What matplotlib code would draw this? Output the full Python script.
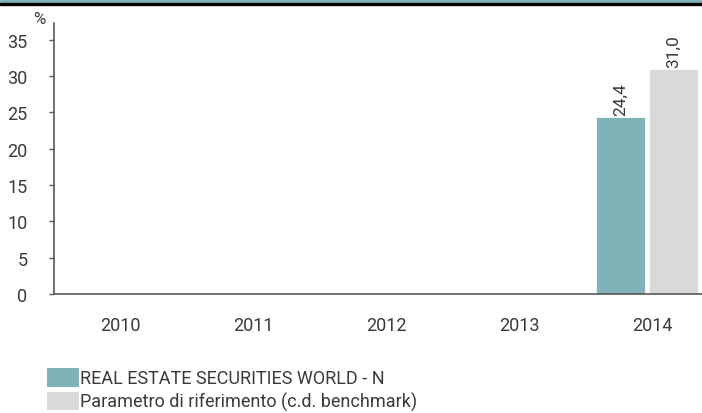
import matplotlib
matplotlib.use("Agg")
import matplotlib.pyplot as plt
from matplotlib.patches import Rectangle, Patch
import numpy as np

# data
years = ["2010", "2011", "2012", "2013", "2014"]
fund = [None, None, None, None, 24.4]
bench = [None, None, None, None, 31.0]
series_names = ["REAL ESTATE SECURITIES WORLD - N", "Parametro di riferimento (c.d. benchmark)"]
yticks = [0, 5, 10, 15, 20, 25, 30, 35]

teal = "#7fb3b8"
grey = "#d9d9d9"
txt = "#3a3a3a"

plt.rcParams["font.family"] = ["Roboto", "DejaVu Sans"]
plt.rcParams["font.size"] = 13

fig = plt.figure(figsize=(7.02, 4.14), dpi=100)
ax = fig.add_axes([54 / 702, 119 / 414, 648 / 702, 271 / 414])

x = np.arange(len(years))
w = 0.368
for i in range(len(years)):
    if fund[i] is not None:
        ax.bar(x[i] - 0.237, fund[i], width=w, color=teal, edgecolor="white", linewidth=0.6)
        ax.text(x[i] - 0.237, fund[i] + 0.2, f"{fund[i]:.1f}".replace(".", ","),
                rotation=90, ha="center", va="bottom", color=txt, fontsize=12.5)
    if bench[i] is not None:
        ax.bar(x[i] + 0.162, bench[i], width=w, color=grey, edgecolor="white", linewidth=0.6)
        ax.text(x[i] + 0.162, bench[i] + 0.2, f"{bench[i]:.1f}".replace(".", ","),
                rotation=90, ha="center", va="bottom", color=txt, fontsize=12.5)

ax.set_xlim(-0.496, 4.376)
ax.set_ylim(0, 37.3)
ax.set_xticks(x)
ax.set_xticklabels(years, color=txt)
ax.set_yticks(yticks)
ax.set_yticklabels([str(v) for v in yticks], color=txt)
ax.tick_params(axis="x", length=0, pad=16)
ax.tick_params(axis="y", length=3.6, width=1, color="#595959", pad=15.5)
for s in ["top", "right"]:
    ax.spines[s].set_visible(False)
for s in ["left", "bottom"]:
    ax.spines[s].set_color("#595959")
    ax.spines[s].set_linewidth(1.2)

fig.text(33 / 702, 1 - 19 / 414, "%", color=txt, fontsize=12, va="center", ha="left")

# header band
fig.patches.append(Rectangle((0, 1 - 4 / 414), 1, 4 / 414, transform=fig.transFigure,
                             color=teal, zorder=5))
fig.patches.append(Rectangle((0, 1 - 6 / 414), 1, 2 / 414, transform=fig.transFigure,
                             color="black", zorder=5))

handles = [Patch(facecolor=teal, edgecolor="none"), Patch(facecolor=grey, edgecolor="none")]
fig.legend(handles, series_names, loc="upper left", bbox_to_anchor=(47 / 702, 1 - 369 / 414),
           frameon=False, borderpad=0, borderaxespad=0, handlelength=1.75, handleheight=1.2,
           handletextpad=0.05, labelspacing=0.25, labelcolor=txt)

fig.savefig("out.png", dpi=100)
